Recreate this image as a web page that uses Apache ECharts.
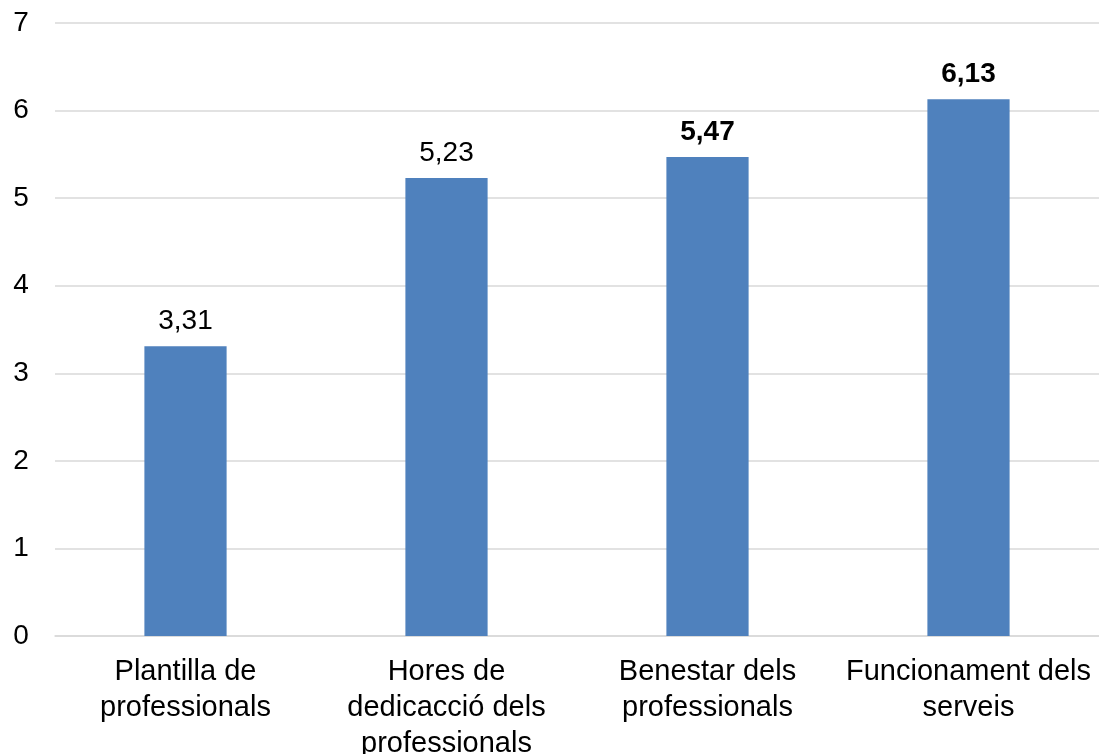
<!DOCTYPE html>
<html>
<head>
<meta charset="utf-8">
<script src="https://cdn.jsdelivr.net/npm/echarts@6/dist/echarts.min.js"></script>
<style>html,body{margin:0;padding:0;background:#fff}#c{width:1099px;height:754px}</style>
</head>
<body>
<div id="c"></div>
<script>
const categories = ["Plantilla de\nprofessionals", "Hores de\ndedicacció dels\nprofessionals", "Benestar dels\nprofessionals", "Funcionament dels\nserveis"];
const values = [3.31, 5.23, 5.47, 6.13];
const boldLabels = [false, false, true, true];
const yTicks = [0, 1, 2, 3, 4, 5, 6, 7];

const chart = echarts.init(document.getElementById('c'), null, {renderer: 'canvas'});
const font = 'Liberation Sans, Arial, sans-serif';
chart.setOption({
  animation: false,
  grid: {left: 55, right: 0, top: 23, bottom: 118, containLabel: false, outerBoundsMode: 'none'},
  xAxis: {
    type: 'category',
    data: categories,
    axisTick: {show: false},
    axisLine: {lineStyle: {color: '#D9D9D9', width: 1.5}},
    axisLabel: {color: '#000', fontSize: 29, fontFamily: font, lineHeight: 36, margin: 18, interval: 0}
  },
  yAxis: {
    type: 'value',
    min: yTicks[0], max: yTicks[yTicks.length - 1], interval: 1,
    axisLine: {show: false},
    axisTick: {show: false},
    splitLine: {lineStyle: {color: '#D9D9D9', width: 1.5}},
    axisLabel: {color: '#000', fontSize: 28, fontFamily: font, margin: 34, align: 'center'}
  },
  series: [{
    type: 'bar',
    data: values.map((v, i) => ({
      value: v,
      label: {fontWeight: boldLabels[i] ? 'bold' : 'normal'}
    })),
    barWidth: '31.5%',
    itemStyle: {color: '#4F81BD'},
    label: {
      show: true, position: 'top', distance: 11,
      color: '#000', fontSize: 28, fontFamily: font,
      formatter: p => p.value.toFixed(2).replace('.', ',')
    }
  }]
});
</script>
</body>
</html>
